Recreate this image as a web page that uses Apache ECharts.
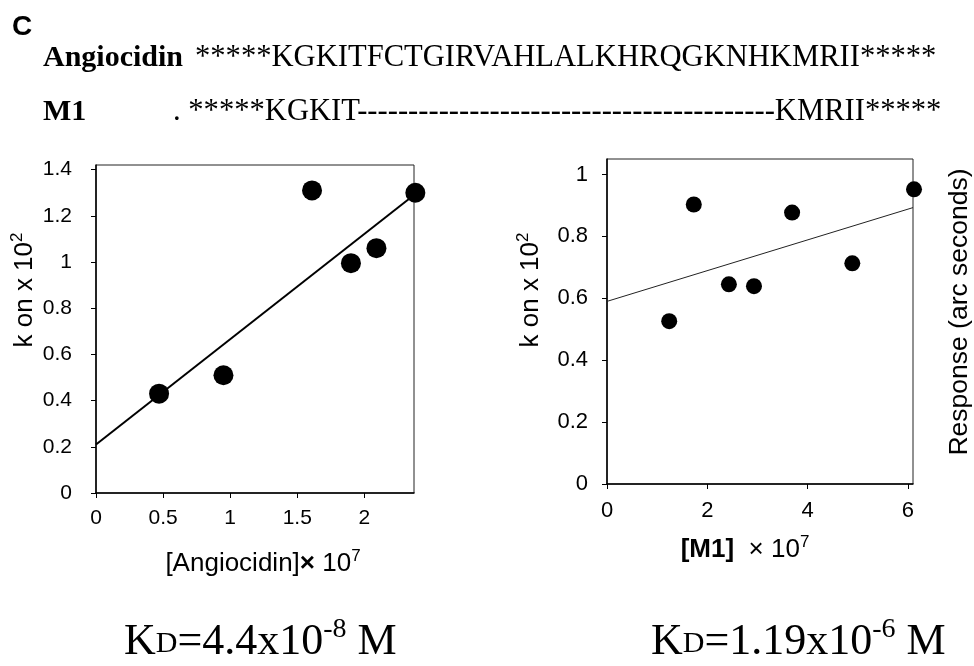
<!DOCTYPE html>
<html>
<head>
<meta charset="utf-8">
<script src="https://cdn.jsdelivr.net/npm/echarts@6/dist/echarts.min.js"></script>
<style>
  html, body { margin: 0; padding: 0; background: #fff; }
  #chart { width: 974px; height: 666px; }
</style>
</head>
<body>
<div id="chart"></div>
<script>
// Angiocidin panel: [concentration x 1e7, k on x 1e2]
var angioPoints = [[0.47, 0.43], [0.95, 0.51], [1.61, 1.31], [1.90, 0.995], [2.09, 1.06], [2.38, 1.30]];
var angioFit = [[0, 0.21], [2.37, 1.29]];
var angioXTicks = [0, 0.5, 1, 1.5, 2];
var angioYTicks = [0, 0.2, 0.4, 0.6, 0.8, 1, 1.2, 1.4];

// M1 panel
var m1Points = [[1.24, 0.526], [1.73, 0.903], [2.43, 0.645], [2.93, 0.639], [3.69, 0.877], [4.89, 0.713], [6.12, 0.952]];
var m1Fit = [[0, 0.59], [6.1, 0.893]];
var m1XTicks = [0, 2, 4, 6];
var m1YTicks = [0, 0.2, 0.4, 0.6, 0.8, 1];

var seqAngio = '*****KGKITFCTGIRVAHLALKHRQGKNHKMRII*****';
var seqM1 = '. *****KGKIT' + '-'.repeat(41) + 'KMRII*****';

var chart = echarts.init(document.getElementById('chart'));

var SANS = 'Liberation Sans';
var SERIF = 'Liberation Serif';

function valueAxis(grid, max, ticks, size, margin) {
    return {
        type: 'value',
        gridIndex: grid,
        min: 0,
        max: max,
        splitLine: { show: false },
        axisLine: { lineStyle: { color: '#000', width: 1.5 } },
        axisTick: { customValues: ticks, length: 5, lineStyle: { color: '#000' } },
        axisLabel: {
            customValues: ticks,
            formatter: function (v) { return String(v); },
            color: '#000',
            fontFamily: SANS,
            fontSize: size,
            margin: margin
        }
    };
}

function txt(x, y, text, style, rot) {
    return {
        type: 'text',
        x: x,
        y: y,
        rotation: rot || 0,
        style: Object.assign({ text: text, fill: '#000' }, style)
    };
}

var supRich = {
    a: { fontFamily: SANS, fontSize: 26, fill: '#000', verticalAlign: 'bottom', lineHeight: 29 },
    b: { fontFamily: SANS, fontSize: 26, fontWeight: 'bold', fill: '#000', verticalAlign: 'bottom', lineHeight: 29 },
    s: { fontFamily: SANS, fontSize: 17, fill: '#000', verticalAlign: 'top', lineHeight: 18 }
};

var kdRich = {
    a: { fontFamily: SERIF, fontSize: 44, fill: '#000', verticalAlign: 'bottom', lineHeight: 48 },
    d: { fontFamily: SERIF, fontSize: 30, fill: '#000', verticalAlign: 'bottom', lineHeight: 32, padding: [0, 0, 5, 0] },
    s: { fontFamily: SERIF, fontSize: 28, fill: '#000', verticalAlign: 'top', lineHeight: 28 }
};

option = {
    backgroundColor: '#fff',
    animation: false,
    grid: [
        { left: 96, top: 165, width: 318, height: 328, show: true, borderColor: '#222', borderWidth: 1 },
        { left: 607, top: 159, width: 306, height: 325, show: true, borderColor: '#222', borderWidth: 1 }
    ],
    xAxis: [
        valueAxis(0, 2.37, angioXTicks, 21, 15),
        valueAxis(1, 6.1, m1XTicks, 22, 16)
    ],
    yAxis: [
        valueAxis(0, 1.42, angioYTicks, 21, 24),
        valueAxis(1, 1.05, m1YTicks, 22, 19)
    ],
    series: [
        {
            type: 'line',
            xAxisIndex: 0, yAxisIndex: 0,
            data: angioFit,
            symbol: 'none',
            lineStyle: { color: '#000', width: 2 }
        },
        {
            type: 'scatter',
            xAxisIndex: 0, yAxisIndex: 0,
            data: angioPoints,
            clip: false,
            symbolSize: 20,
            itemStyle: { color: '#000', opacity: 1 }
        },
        {
            type: 'line',
            xAxisIndex: 1, yAxisIndex: 1,
            data: m1Fit,
            symbol: 'none',
            lineStyle: { color: '#222', width: 1 }
        },
        {
            type: 'scatter',
            xAxisIndex: 1, yAxisIndex: 1,
            data: m1Points,
            clip: false,
            symbolSize: 16,
            itemStyle: { color: '#000', opacity: 1 }
        }
    ],
    graphic: {
        elements: [
            txt(12, 27, 'C', { fontFamily: SANS, fontWeight: 'bold', fontSize: 28, align: 'left', verticalAlign: 'middle' }),
            txt(43, 58, 'Angiocidin', { fontFamily: SERIF, fontWeight: 'bold', fontSize: 30, align: 'left', verticalAlign: 'middle' }),
            txt(195, 58, seqAngio, { fontFamily: SERIF, fontSize: 30.6, align: 'left', verticalAlign: 'middle' }),
            txt(43, 112, 'M1', { fontFamily: SERIF, fontWeight: 'bold', fontSize: 30, align: 'left', verticalAlign: 'middle' }),
            txt(173, 112, seqM1, { fontFamily: SERIF, fontSize: 30.6, align: 'left', verticalAlign: 'middle' }),

            txt(23, 290, '{a|k on x 10}{s|2}', { rich: supRich, align: 'center', verticalAlign: 'middle' }, Math.PI / 2),
            txt(529, 290, '{a|k on x 10}{s|2}', { rich: supRich, align: 'center', verticalAlign: 'middle' }, Math.PI / 2),
            txt(960, 312, 'Response (arc seconds)', { fontFamily: SANS, fontSize: 26.5, align: 'center', verticalAlign: 'middle' }, Math.PI / 2),

            txt(263, 562, '{a|[Angiocidin]}{b|×}{a| 10}{s|7}', { rich: supRich, align: 'center', verticalAlign: 'middle' }),
            txt(745, 548, '{b|[M1]}{a|  × 10}{s|7}', { rich: supRich, align: 'center', verticalAlign: 'middle' }),

            txt(124, 640, '{a|K}{d|D}{a|=4.4x10}{s|-8}{a| M}', { rich: kdRich, align: 'left', verticalAlign: 'middle' }),
            txt(651, 640, '{a|K}{d|D}{a|=1.19x10}{s|-6}{a| M}', { rich: kdRich, align: 'left', verticalAlign: 'middle' })
        ]
    }
};

chart.setOption(option);
</script>
</body>
</html>
